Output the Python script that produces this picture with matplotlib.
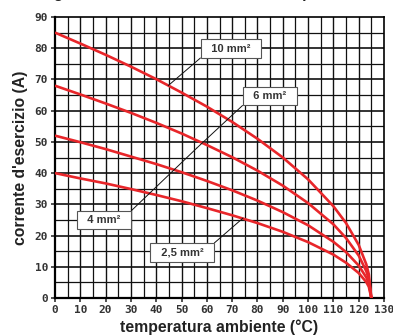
import matplotlib
matplotlib.use("Agg")
import matplotlib.pyplot as plt

# temperatura ambiente (°C)
temp = [0, 10, 20, 30, 40, 50, 60, 70, 80, 90, 100, 110, 115, 120, 123, 124, 125]

# corrente d'esercizio (A) per sezione
i_10 = [85, 81.5, 77.9, 74.1, 70.1, 65.8, 61.3, 56.4, 51.0, 45.0, 38.0, 29.4, 24.0, 17.0, 10.8, 7.6, 0]
i_6 = [68, 65.2, 62.3, 59.3, 56.1, 52.7, 49.0, 45.1, 40.8, 36.0, 30.4, 23.6, 19.2, 13.6, 8.6, 6.1, 0]
i_4 = [52, 49.9, 47.7, 45.3, 42.9, 40.3, 37.5, 34.5, 31.2, 27.5, 23.3, 18.0, 14.7, 10.4, 6.6, 4.7, 0]
i_25 = [40, 38.3, 36.7, 34.9, 33.0, 31.0, 28.8, 26.5, 24.0, 21.2, 17.9, 13.9, 11.3, 8.0, 5.1, 3.6, 0]

labels = ["10 mm²", "6 mm²", "4 mm²", "2,5 mm²"]
label_pos = [(69.6, 79.8), (85, 64.7), (19.4, 25), (50.2, 14.7)]
label_target = [(44.7, 68), (56, 48), (56, 48), (74.3, 25.6)]
label_corner = [(0, 0), (0, 0), (1, 1), (1, 1)]

xticks = list(range(0, 131, 10))
yticks = list(range(0, 91, 10))

fig = plt.figure(figsize=(3.93, 3.36), dpi=100)
ax = fig.add_axes([55 / 393, 38 / 336, 329 / 393, 281 / 336])

ax.set_xlim(0, 130)
ax.set_ylim(0, 90)

# griglia ogni 5
for x in range(5, 130, 5):
    ax.axvline(x, color="#111111", lw=1.0 if x % 10 == 0 else 0.9, zorder=1)
for y in range(5, 90, 5):
    ax.axhline(y, color="#111111", lw=1.2 if y % 10 == 0 else 0.9, zorder=1)

red = "#e8262a"
for vals in (i_10, i_6, i_4, i_25):
    ax.plot(temp, vals, color=red, lw=1.9, zorder=3, solid_capstyle="butt")

for txt, pos, tgt, rp in zip(labels, label_pos, label_target, label_corner):
    ax.annotate("  " + txt + "  ", xy=tgt, xytext=pos, ha="center", va="center",
                fontsize=8, fontweight="bold", color="#333333",
                family="Liberation Sans", zorder=5,
                bbox=dict(boxstyle="square,pad=0.4", fc="white", ec="#555555", lw=0.8),
                arrowprops=dict(arrowstyle="-", color="#111111", lw=0.7,
                                shrinkA=0, shrinkB=0, relpos=rp))

for side in ("left", "bottom"):
    ax.spines[side].set_linewidth(1.6)
for side in ("top", "right"):
    ax.spines[side].set_linewidth(1.2)

ax.set_xticks(xticks)
ax.set_yticks(yticks)
ax.tick_params(direction="out", length=3, width=1.1, pad=2, colors="#222222")
for lab in ax.get_xticklabels() + ax.get_yticklabels():
    lab.set_family("DejaVu Sans Mono")
    lab.set_fontweight("bold")
    lab.set_fontsize(8)
    lab.set_color("#333333")

ax.set_xlabel("temperatura ambiente (°C)", family="Liberation Sans", fontweight="bold",
              fontsize=11.3, color="#222222", labelpad=3)
ax.set_ylabel("corrente d'esercizio (A)", family="Liberation Sans", fontweight="bold",
              fontsize=11.3, color="#222222", labelpad=5)

# titolo tagliato in alto come nell'originale
fig.text(0.5, 1.0 + 2 / 336, "Diagramma corrente d'esercizio - temperatura", ha="center",
         va="baseline", family="Liberation Sans", fontweight="bold", fontsize=11,
         color="#222222")

fig.savefig("out.png", dpi=100)
